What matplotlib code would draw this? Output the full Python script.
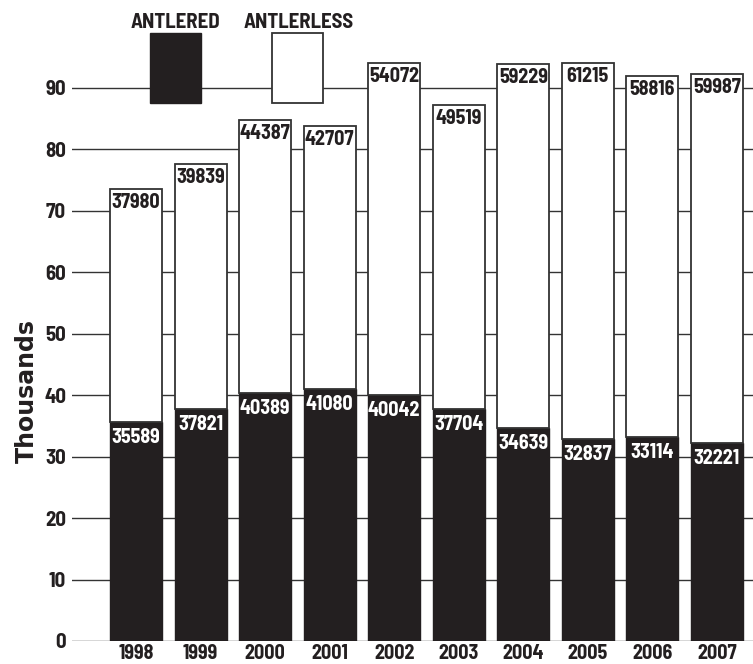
import matplotlib
matplotlib.use("Agg")
import matplotlib.pyplot as plt
from matplotlib.patches import Rectangle

years = ["1998", "1999", "2000", "2001", "2002", "2003", "2004", "2005", "2006", "2007"]
antlered = [35589, 37821, 40389, 41080, 40042, 37704, 34639, 32837, 33114, 32221]
antlerless = [37980, 39839, 44387, 42707, 54072, 49519, 59229, 61215, 58816, 59987]
yticks = [0, 10, 20, 30, 40, 50, 60, 70, 80, 90]

NARROW = ["Barlow Semi Condensed", "DejaVu Sans"]
BLACK = "#231f20"

W, H = 753, 664
fig = plt.figure(figsize=(W / 100, H / 100), dpi=100)
ax = fig.add_axes([72 / W, (H - 641) / H, (W - 72) / W, 641 / H])

x = list(range(len(years)))
a_k = [v / 1000 for v in antlered]
b_k = [v / 1000 for v in antlerless]

ax.bar(x, a_k, width=0.805, color=BLACK, edgecolor=BLACK, linewidth=1.0, zorder=2)
ax.bar(x, b_k, bottom=a_k, width=0.805, color="white", edgecolor="#333333",
       linewidth=1.3, zorder=2)

for xi, a, b, av, bv in zip(x, a_k, b_k, antlered, antlerless):
    ax.annotate(f"{av}", (xi, a), xytext=(0, -6), textcoords="offset pixels",
                ha="center", va="top", color="white", fontsize=14.5,
                fontweight="bold", family=NARROW, zorder=3)
    ax.annotate(f"{bv}", (xi, a + b), xytext=(0, -4), textcoords="offset pixels",
                ha="center", va="top", color=BLACK, fontsize=14.5,
                fontweight="bold", family=NARROW, zorder=3)

ax.set_xlim(-0.991, 9.558)
ax.set_ylim(0, 104.3)
ax.set_yticks(yticks)
ax.set_yticklabels([str(t) for t in yticks])
ax.set_xticks(x)
ax.set_xticklabels(years)
ax.yaxis.grid(True, color="#333333", linewidth=1.0)
ax.set_axisbelow(True)
for s in ax.spines.values():
    s.set_visible(False)
ax.tick_params(axis="both", length=0)
ax.tick_params(axis="y", pad=4.3)
ax.tick_params(axis="x", pad=2.5)
for lbl in ax.get_yticklabels() + ax.get_xticklabels():
    lbl.set_fontfamily(NARROW)
    lbl.set_fontweight("bold")
    lbl.set_fontsize(15)
    lbl.set_color(BLACK)
for lbl in ax.get_xticklabels():
    lbl.set_fontsize(14.5)

fig.text(27 / W, 1 - 391 / H, "Thousands", rotation=90, ha="center", va="center",
         fontsize=17, fontweight="bold", family=["DejaVu Sans"], color=BLACK)

# legend
fig.patches.append(Rectangle((150 / W, 1 - 103 / H), 51 / W, 70 / H,
                             transform=fig.transFigure, facecolor=BLACK,
                             edgecolor=BLACK, zorder=5))
fig.patches.append(Rectangle((272 / W, 1 - 103 / H), 51 / W, 70 / H,
                             transform=fig.transFigure, facecolor="white",
                             edgecolor="#333333", linewidth=1.3, zorder=5))
fig.text(175 / W, 1 - 22 / H, "ANTLERED", ha="center", va="center", fontsize=15,
         fontweight="bold", family=NARROW, color=BLACK)
fig.text(299 / W, 1 - 22 / H, "ANTLERLESS", ha="center", va="center", fontsize=15,
         fontweight="bold", family=NARROW, color=BLACK)

fig.savefig("out.png", dpi=100)
